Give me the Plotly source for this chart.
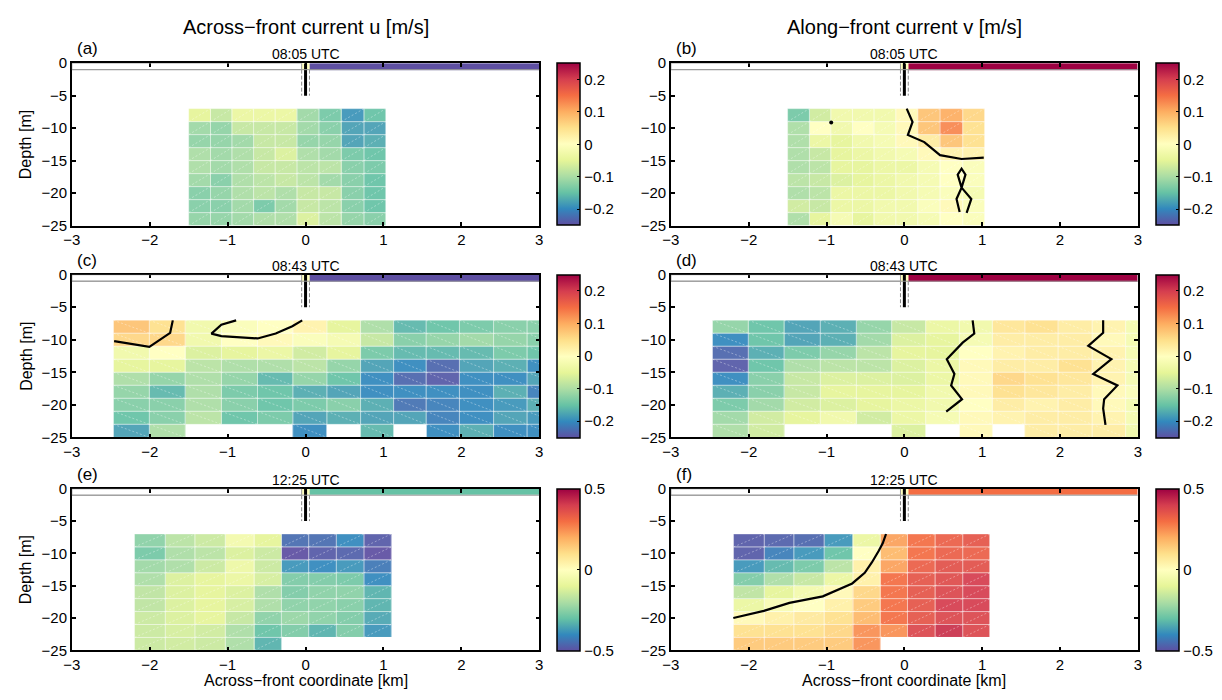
import numpy as np
import plotly.graph_objects as go

# ---------------------------------------------------------------------------
# Section grids (cell edges): depth bins and across-front bins for each survey
# ---------------------------------------------------------------------------
depth_edges = [-7, -9, -11, -13, -15, -17, -19, -21, -23, -25]

x_edges_0805 = [-1.50, -1.22, -0.945, -0.667, -0.39, -0.11, 0.172, 0.458, 0.75, 1.03]
x_edges_0843 = [-2.465, -2.005, -1.545, -1.08, -0.617, -0.163, 0.274, 0.706,
                1.13, 1.548, 1.975, 2.413, 2.843, 3.28]
x_edges_1225 = [-2.195, -1.80, -1.42, -1.03, -0.66, -0.31, 0.04, 0.395, 0.75, 1.10]

N = None

# Across-front current u [m/s], rows from -8 m down to -24 m
u_0805 = [
    [-0.05, -0.08, -0.04, -0.04, -0.04, -0.11, -0.14, -0.19, -0.15],
    [-0.11, -0.12, -0.08, -0.08, -0.08, -0.11, -0.13, -0.18, -0.18],
    [-0.12, -0.12, -0.11, -0.08, -0.08, -0.12, -0.12, -0.18, -0.17],
    [-0.10, -0.11, -0.10, -0.08, -0.06, -0.10, -0.11, -0.14, -0.15],
    [-0.10, -0.11, -0.10, -0.08, -0.08, -0.09, -0.09, -0.13, -0.14],
    [-0.11, -0.13, -0.10, -0.09, -0.08, -0.09, -0.11, -0.13, -0.15],
    [-0.13, -0.12, -0.10, -0.09, -0.10, -0.08, -0.08, -0.13, -0.15],
    [-0.13, -0.13, -0.11, -0.14, -0.11, -0.08, -0.09, -0.13, -0.15],
    [-0.12, -0.12, -0.11, -0.10, -0.10, -0.06, -0.09, -0.12, -0.13],
]

# Along-front current v [m/s]
v_0805 = [
    [-0.14, -0.07, -0.03, -0.03, -0.03, 0.01, 0.08, 0.10, 0.06],
    [-0.10, 0.00, -0.03, 0.00, -0.02, 0.01, 0.08, 0.13, 0.05],
    [-0.10, -0.04, -0.05, -0.03, -0.02, 0.01, 0.03, 0.08, 0.05],
    [-0.10, -0.08, -0.05, -0.04, -0.03, -0.02, 0.01, 0.02, 0.02],
    [-0.10, -0.09, -0.05, -0.05, -0.04, -0.04, -0.02, 0.00, -0.01],
    [-0.09, -0.08, -0.06, -0.05, -0.04, -0.03, -0.02, 0.00, -0.01],
    [-0.10, -0.09, -0.04, -0.04, -0.04, -0.03, -0.02, -0.01, -0.02],
    [-0.07, -0.08, -0.04, -0.04, -0.03, -0.03, -0.01, 0.01, -0.01],
    [-0.10, -0.05, -0.02, -0.05, -0.03, -0.03, -0.02, 0.00, -0.01],
]

u_0843 = [
    [0.08, 0.05, -0.03, -0.01, 0.00, 0.02, -0.05, -0.10, -0.16, -0.15, -0.14, -0.13, -0.13],
    [0.06, 0.06, -0.03, 0.00, 0.01, -0.01, -0.02, -0.08, -0.13, -0.12, -0.11, -0.12, -0.13],
    [-0.03, 0.00, -0.06, -0.05, -0.04, -0.07, -0.05, -0.14, -0.16, -0.16, -0.16, -0.14, -0.15],
    [-0.05, -0.05, -0.09, -0.10, -0.10, -0.09, -0.12, -0.18, -0.20, -0.23, -0.18, -0.17, -0.20],
    [-0.10, -0.12, -0.10, -0.12, -0.16, -0.12, -0.15, -0.20, -0.23, -0.24, -0.20, -0.20, -0.18],
    [-0.12, -0.16, -0.10, -0.14, -0.15, -0.17, -0.18, -0.20, -0.20, -0.20, -0.20, -0.17, -0.21],
    [-0.13, -0.13, -0.10, -0.13, -0.15, -0.14, -0.13, -0.17, -0.22, -0.21, -0.20, -0.19, -0.17],
    [-0.15, -0.13, -0.09, -0.15, -0.14, -0.18, -0.17, -0.18, -0.18, -0.21, -0.20, -0.18, -0.19],
    [-0.18, -0.10, N, N, N, -0.20, N, -0.16, N, -0.20, -0.17, -0.20, -0.20],
]

v_0843 = [
    [-0.12, -0.15, -0.18, -0.17, -0.12, -0.08, -0.04, -0.03, 0.04, 0.05, 0.03, 0.02, -0.02],
    [-0.20, -0.15, -0.18, -0.17, -0.11, -0.06, -0.05, -0.02, 0.03, 0.03, 0.03, 0.01, -0.02],
    [-0.23, -0.17, -0.14, -0.12, -0.09, -0.05, -0.05, 0.00, 0.02, 0.03, 0.03, 0.02, -0.02],
    [-0.24, -0.15, -0.10, -0.09, -0.09, -0.06, -0.04, 0.01, 0.03, 0.03, 0.05, 0.02, -0.02],
    [-0.20, -0.13, -0.08, -0.06, -0.06, -0.06, -0.04, 0.01, 0.06, 0.05, 0.04, 0.02, -0.02],
    [-0.17, -0.13, -0.08, -0.05, -0.05, -0.05, -0.03, 0.01, 0.05, 0.04, 0.03, 0.01, -0.01],
    [-0.14, -0.11, -0.07, -0.06, -0.05, -0.04, -0.03, 0.00, 0.03, 0.02, 0.03, 0.01, -0.02],
    [-0.11, -0.07, -0.05, -0.03, -0.07, -0.04, -0.02, 0.01, 0.02, 0.03, 0.03, 0.02, -0.02],
    [-0.10, -0.07, N, N, N, -0.06, N, 0.01, N, 0.03, 0.03, 0.03, -0.03],
]

u_1225 = [
    [-0.25, -0.18, -0.15, -0.05, -0.10, -0.45, -0.45, -0.40, -0.48],
    [-0.28, -0.20, -0.18, -0.12, -0.15, -0.50, -0.48, -0.47, -0.50],
    [-0.22, -0.20, -0.15, -0.07, -0.15, -0.38, -0.40, -0.38, -0.43],
    [-0.20, -0.12, -0.10, -0.08, -0.13, -0.27, -0.27, -0.28, -0.40],
    [-0.17, -0.12, -0.10, -0.12, -0.20, -0.27, -0.25, -0.25, -0.33],
    [-0.17, -0.12, -0.10, -0.13, -0.20, -0.25, -0.25, -0.26, -0.33],
    [-0.15, -0.12, -0.10, -0.16, -0.25, -0.23, -0.25, -0.27, -0.35],
    [-0.15, -0.13, -0.14, -0.20, -0.30, -0.27, -0.33, -0.27, -0.38],
    [-0.15, -0.14, -0.15, -0.20, -0.33, N, N, N, N],
]

v_1225 = [
    [-0.48, -0.47, -0.46, -0.38, -0.08, 0.22, 0.30, 0.33, 0.35],
    [-0.48, -0.42, -0.38, -0.30, 0.00, 0.18, 0.30, 0.33, 0.33],
    [-0.38, -0.32, -0.28, -0.18, 0.05, 0.22, 0.33, 0.36, 0.36],
    [-0.27, -0.20, -0.16, -0.08, 0.05, 0.30, 0.35, 0.37, 0.40],
    [-0.17, -0.10, -0.05, 0.02, 0.12, 0.30, 0.35, 0.38, 0.40],
    [-0.08, -0.03, 0.00, 0.05, 0.15, 0.30, 0.35, 0.40, 0.40],
    [0.02, 0.05, 0.07, 0.10, 0.18, 0.30, 0.35, 0.38, 0.38],
    [0.10, 0.10, 0.10, 0.12, 0.25, 0.25, 0.38, 0.42, 0.38],
    [0.15, 0.15, 0.15, 0.15, 0.25, N, N, N, N],
]

# Surface front velocity strip (value east of the front), per panel a..f
front_speed = [-0.30, 0.30, -0.30, 0.30, -0.30, 0.30]
front_core = 0.0

# Zero-velocity contours [km, m]
zc_b1_x = [0.03, 0.105, 0.045, 0.256, 0.458, 0.734, 1.02]
zc_b1_y = [-7.0, -9.05, -11.05, -12.15, -14.15, -14.75, -14.55]
zc_b2_x = [0.71, 0.67, 0.735, 0.685, 0.735, 0.785, 0.735, 0.86, 0.80]
zc_b2_y = [-22.9, -20.9, -19.15, -17.15, -16.25, -17.15, -19.15, -20.9, -23.05]
zc_b3_x = [-0.94]
zc_b3_y = [-9.15]
zc_c1_x = [-2.457, -2.005, -1.738, -1.704]
zc_c1_y = [-10.2, -11.1, -8.94, -7.02]
zc_c2_x = [-0.891, -1.081, -1.208, -1.081, -0.615, -0.383, -0.17, -0.043]
zc_c2_y = [-7.02, -7.68, -9.05, -9.44, -9.8, -9.05, -7.92, -7.02]
zc_d1_x = [0.877, 0.898, 0.749, 0.545, 0.643, 0.601, 0.741, 0.538]
zc_d1_y = [-7.02, -9.05, -10.45, -12.98, -15.25, -17.02, -19.14, -21.06]
zc_d2_x = [2.554, 2.554, 2.363, 2.66, 2.427, 2.737, 2.567, 2.554, 2.584]
zc_d2_y = [-7.02, -8.94, -10.95, -12.98, -15.25, -17.02, -19.14, -20.56, -23.08]
zc_f1_x = [-0.236, -0.277, -0.327, -0.418, -0.509, -0.67, -1.048, -1.477, -1.805, -2.198]
zc_f1_y = [-7.0, -8.4, -9.55, -11.4, -13.0, -14.65, -16.65, -17.65, -18.9, -20.0]

panel_letters = ["(a)", "(b)", "(c)", "(d)", "(e)", "(f)"]
panel_times = ["08:05 UTC", "08:05 UTC", "08:43 UTC", "08:43 UTC", "12:25 UTC", "12:25 UTC"]
col_titles = ["Across\u2212front current u [m/s]", "Along\u2212front current v [m/s]"]
xlabel = "Across\u2212front coordinate [km]"
ylabel = "Depth [m]"
x_ticks = [-3, -2, -1, 0, 1, 2, 3]
y_ticks = [0, -5, -10, -15, -20, -25]
cbar_ticks_small = [-0.2, -0.1, 0, 0.1, 0.2]
cbar_ticks_large = [-0.5, 0, 0.5]

# ---------------------------------------------------------------------------
spectral = ["#5e4fa2", "#3288bd", "#66c2a5", "#abdda4", "#e6f598", "#ffffbf",
            "#fee08b", "#fdae61", "#f46d43", "#d53e4f", "#9e0142"]
cscale = [[i / (len(spectral) - 1), c] for i, c in enumerate(spectral)]

W, H = 1222, 700
FONT = "Liberation Sans, Arial, Helvetica, sans-serif"
TICK_SIZE = 15

col_px = [(63.5, 536.0), (669.0, 1141.0)]
row_px = [(55.5, 222.0), (272.3, 439.0), (491.7, 657.3)]
cbar_px = [554.0, 1159.0]

panels = [
    dict(z=u_0805, xe=x_edges_0805, lim=0.25, ticks=cbar_ticks_small, diag="/",
         contours=[]),
    dict(z=v_0805, xe=x_edges_0805, lim=0.25, ticks=cbar_ticks_small, diag="/",
         contours=[(zc_b1_x, zc_b1_y), (zc_b2_x, zc_b2_y)], dots=(zc_b3_x, zc_b3_y)),
    dict(z=u_0843, xe=x_edges_0843, lim=0.25, ticks=cbar_ticks_small, diag="\\",
         contours=[(zc_c1_x, zc_c1_y), (zc_c2_x, zc_c2_y)]),
    dict(z=v_0843, xe=x_edges_0843, lim=0.25, ticks=cbar_ticks_small, diag="\\",
         contours=[(zc_d1_x, zc_d1_y), (zc_d2_x, zc_d2_y)]),
    dict(z=u_1225, xe=x_edges_1225, lim=0.5, ticks=cbar_ticks_large, diag="/",
         contours=[]),
    dict(z=v_1225, xe=x_edges_1225, lim=0.5, ticks=cbar_ticks_large, diag="/",
         contours=[(zc_f1_x, zc_f1_y)]),
]


def cell_mesh(xe, ye, z, diag):
    """Outline and diagonal segments of every filled cell."""
    bx, by, dx, dy = [], [], [], []
    for i in range(len(ye) - 1):
        for j in range(len(xe) - 1):
            if z[i][j] is None:
                continue
            x0, x1 = xe[j], xe[j + 1]
            yt, yb = ye[i], ye[i + 1]
            bx += [x0, x1, x1, x0, x0, None]
            by += [yt, yt, yb, yb, yt, None]
            dx += [x0, x1, None]
            dy += ([yb, yt, None] if diag == "/" else [yt, yb, None])
    return bx, by, dx, dy


fig = go.Figure()
layout = dict(width=W, height=H, margin=dict(l=0, r=0, t=0, b=0),
              paper_bgcolor="white", plot_bgcolor="white", showlegend=False,
              font=dict(family=FONT, size=TICK_SIZE, color="black"))
annotations = []
shapes = []

for k, p in enumerate(panels):
    r, c = divmod(k, 2)
    n = "" if k == 0 else str(k + 1)
    xa, ya = "x" + n, "y" + n
    x0p, x1p = col_px[c]
    top, bot = row_px[r]
    ydom = [1 - bot / H, 1 - top / H]
    axis_common = dict(showgrid=False, zeroline=False, showline=True, linecolor="black",
                       linewidth=1.5, mirror="ticks", ticks="inside", ticklen=4,
                       tickcolor="black", tickwidth=1.5,
                       tickfont=dict(family=FONT, size=TICK_SIZE, color="black"))
    layout["xaxis" + n] = dict(domain=[x0p / W, x1p / W], range=[-3, 3], tickvals=x_ticks,
                               anchor=ya, **axis_common)
    layout["yaxis" + n] = dict(domain=ydom, range=[-25, 0], tickvals=y_ticks,
                               anchor=xa, **axis_common)

    zrows = p["z"]
    zarr = np.array([[np.nan if v is None else v for v in row] for row in zrows])
    lim = p["lim"]

    # gridded velocity section
    fig.add_trace(go.Heatmap(
        x=p["xe"], y=depth_edges[::-1], z=zarr[::-1], xaxis=xa, yaxis=ya,
        zmin=-lim, zmax=lim, colorscale=cscale, opacity=0.93, hoverinfo="skip",
        colorbar=dict(x=cbar_px[c] / W, xanchor="left", xpad=0, ypad=0,
                      y=sum(ydom) / 2, yanchor="middle", len=ydom[1] - ydom[0],
                      lenmode="fraction", thickness=23, thicknessmode="pixels",
                      outlinewidth=1.5, outlinecolor="black", ticks="inside",
                      ticklen=3, tickcolor="black", tickvals=p["ticks"],
                      tickfont=dict(family=FONT, size=TICK_SIZE, color="black"))))

    # cell outlines and diagonals
    bx, by, dx, dy = cell_mesh(p["xe"], depth_edges, zrows, p["diag"])
    fig.add_trace(go.Scatter(x=bx, y=by, mode="lines", xaxis=xa, yaxis=ya,
                             line=dict(color="rgba(255,255,255,0.45)", width=0.8),
                             hoverinfo="skip"))
    fig.add_trace(go.Scatter(x=dx, y=dy, mode="lines", xaxis=xa, yaxis=ya,
                             line=dict(color="rgba(255,255,255,0.6)", width=0.6, dash="2px,2px"),
                             hoverinfo="skip"))

    # surface strip with the front velocity
    fig.add_trace(go.Heatmap(
        x=[-0.05, 0.05, 3.0], y=[-1, 0], z=[[front_core, front_speed[k]]],
        xaxis=xa, yaxis=ya, zmin=-lim, zmax=lim, colorscale=cscale,
        showscale=False, hoverinfo="skip"))
    shapes.append(dict(type="rect", xref=xa, yref=ya, x0=-3, x1=-0.05, y0=-1, y1=0,
                       line=dict(color="#999999", width=1)))
    shapes.append(dict(type="line", xref=xa, yref=ya, x0=-3, x1=3, y0=-1, y1=-1,
                       line=dict(color="#999999", width=1)))

    # front position markers
    for xd in (-0.05, 0.05):
        fig.add_trace(go.Scatter(x=[xd, xd], y=[-1, -5], mode="lines", xaxis=xa, yaxis=ya,
                                 line=dict(color="#888888", width=1, dash="4px,2px"),
                                 hoverinfo="skip"))
    fig.add_trace(go.Scatter(x=[0, 0], y=[0, -5], mode="lines", xaxis=xa, yaxis=ya,
                             line=dict(color="black", width=3), hoverinfo="skip"))

    # zero contours
    for cx, cy in p["contours"]:
        fig.add_trace(go.Scatter(x=cx, y=cy, mode="lines", xaxis=xa, yaxis=ya,
                                 line=dict(color="black", width=2.2), hoverinfo="skip"))
    if "dots" in p:
        fig.add_trace(go.Scatter(x=p["dots"][0], y=p["dots"][1], mode="markers",
                                 xaxis=xa, yaxis=ya,
                                 marker=dict(color="black", size=4), hoverinfo="skip"))

    # panel letter and time stamp
    annotations.append(dict(text=panel_letters[k], x=(x0p + 3) / W, y=1 - (top - 15) / H,
                            xref="paper", yref="paper", xanchor="left", yanchor="middle",
                            showarrow=False, font=dict(family=FONT, size=17)))
    annotations.append(dict(text=panel_times[k], x=(x0p + x1p) / 2 / W, y=1 - (top - 9) / H,
                            xref="paper", yref="paper", xanchor="center", yanchor="middle",
                            showarrow=False, font=dict(family=FONT, size=14)))
    if c == 0:
        annotations.append(dict(text=ylabel, x=17 / W, y=sum(ydom) / 2, textangle=-90,
                                xref="paper", yref="paper", xanchor="center",
                                yanchor="middle", showarrow=False,
                                font=dict(family=FONT, size=16)))
    if r == 2:
        annotations.append(dict(text=xlabel, x=(x0p + x1p) / 2 / W, y=1 - 688 / H,
                                xref="paper", yref="paper", xanchor="center",
                                yanchor="middle", showarrow=False,
                                font=dict(family=FONT, size=16)))

for c, t in enumerate(col_titles):
    annotations.append(dict(text=t, x=(col_px[c][0] + col_px[c][1]) / 2 / W, y=1 - 18 / H,
                            xref="paper", yref="paper", xanchor="center", yanchor="middle",
                            showarrow=False, font=dict(family=FONT, size=20)))

layout["annotations"] = annotations
layout["shapes"] = shapes
fig.update_layout(**layout)
fig.write_html("out.html")
